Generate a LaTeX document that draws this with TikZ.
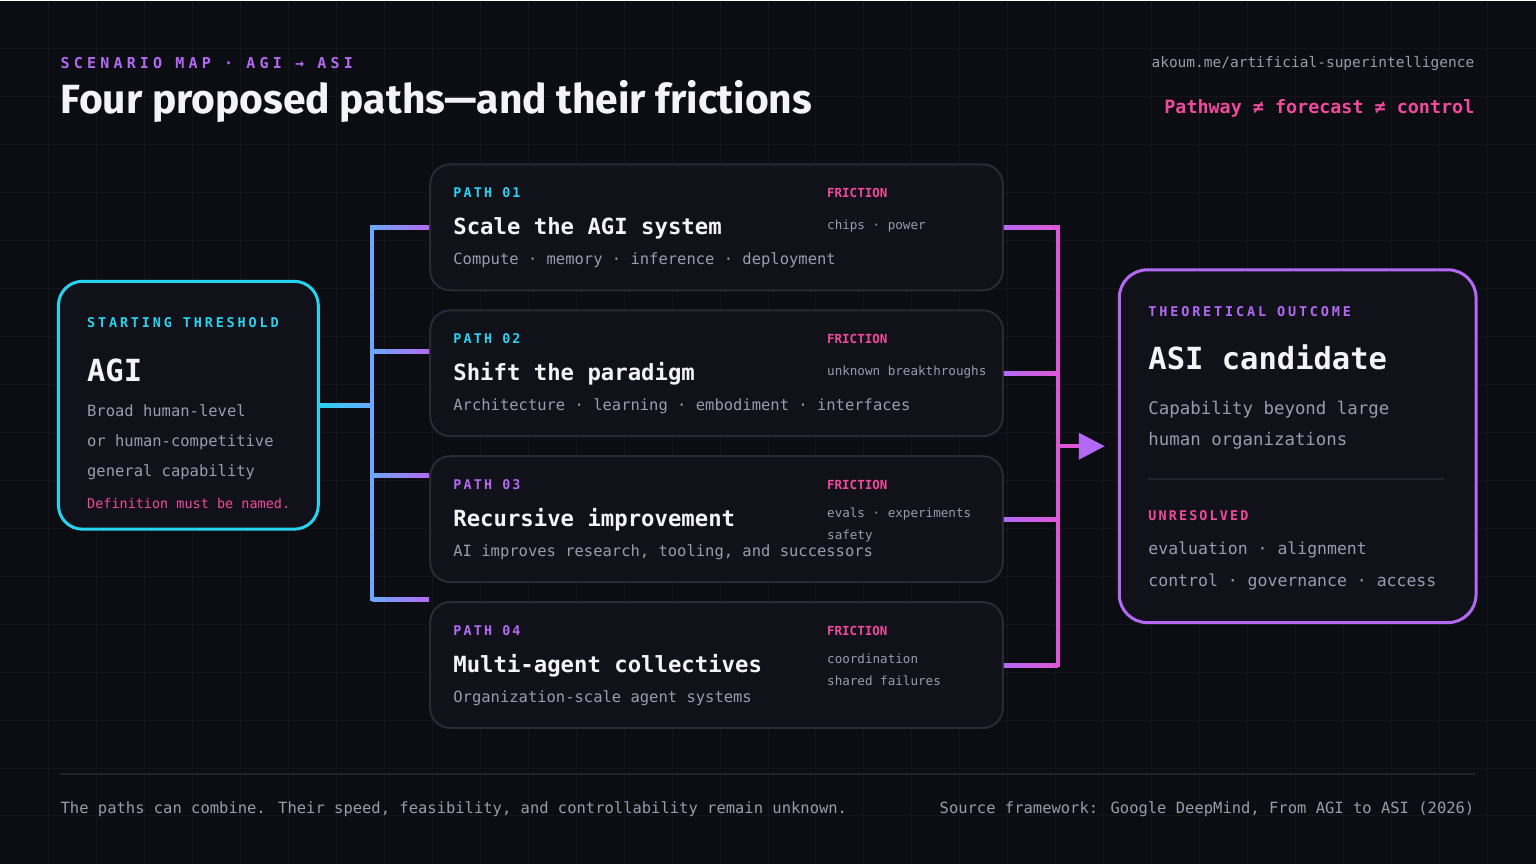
\documentclass[tikz,border=0pt]{standalone}
\usepackage{fontspec}
\setmainfont{DejaVu Sans Mono}
\newfontfamily\titlefont{Fira Sans}
\newfontfamily\kickfont[LetterSpace=28]{DejaVu Sans Mono}
\newfontfamily\widefont[LetterSpace=21]{DejaVu Sans Mono}
\newfontfamily\midfont[LetterSpace=16]{DejaVu Sans Mono}
\usetikzlibrary{positioning, arrows.meta}

\definecolor{bgcol}{HTML}{0C0D13}
\definecolor{gridcol}{HTML}{13141C}
\definecolor{boxfill}{HTML}{111219}
\definecolor{boxline}{HTML}{2A2939}
\definecolor{agicyan}{HTML}{27D3EE}
\definecolor{busblue}{HTML}{6CA8FF}
\definecolor{asipurple}{HTML}{B469F5}
\definecolor{frictionpink}{HTML}{F04A9C}
\definecolor{busmag}{HTML}{DE58D5}
\definecolor{softgray}{HTML}{9C99B0}
\definecolor{titlewhite}{HTML}{F4F4F8}
\definecolor{sepcol}{HTML}{22212D}

\tikzstyle{agibox} = [rectangle, rounded corners=24pt, minimum width=260pt, minimum height=248pt, draw=agicyan, line width=3pt, fill=boxfill]
\tikzstyle{pathbox} = [rectangle, rounded corners=20pt, minimum width=573pt, minimum height=126pt, draw=boxline, line width=2pt, fill=boxfill]
\tikzstyle{asibox} = [rectangle, rounded corners=28pt, minimum width=357pt, minimum height=353pt, draw=asipurple, line width=3pt, fill=boxfill]
\tikzstyle{txt} = [anchor=base west, inner sep=0pt]
\tikzstyle{kicker} = [txt, text=asipurple, font=\kickfont\bfseries\fontsize{15}{18}\selectfont]
\tikzstyle{tag} = [txt, font=\widefont\bfseries\fontsize{13.5}{16}\selectfont]
\tikzstyle{pathtag} = [txt, font=\midfont\bfseries\fontsize{13.4}{16}\selectfont]
\tikzstyle{frictag} = [txt, text=frictionpink, font=\bfseries\fontsize{12.5}{15}\selectfont]
\tikzstyle{heading} = [txt, text=titlewhite, font=\bfseries\fontsize{22.3}{26}\selectfont]
\tikzstyle{bigname} = [txt, text=titlewhite, font=\bfseries\fontsize{30.5}{34}\selectfont]
\tikzstyle{body} = [txt, text=softgray, font=\fontsize{15.5}{18}\selectfont]
\tikzstyle{fric} = [txt, text=softgray, font=\fontsize{12.6}{15}\selectfont]
\tikzstyle{asibody} = [txt, text=softgray, font=\fontsize{17.4}{20}\selectfont]
\tikzstyle{unres} = [txt, text=softgray, font=\fontsize{16.5}{19}\selectfont]
\tikzstyle{gridline} = [gridcol, line width=1pt]
\tikzstyle{bus} = [line width=4pt, line cap=rect]

\begin{document}
\begin{tikzpicture}[x=1pt, y=-1pt]
	% background and faint grid
	\fill[bgcol] (0,0) rectangle (1536,864);
	\foreach \gx in {48,96,...,1500} \draw[gridline] (\gx,0) -- (\gx,864);
	\foreach \gy in {48,96,...,850} \draw[gridline] (0,\gy) -- (1536,\gy);

	% header
	\node (kick) [kicker] at (60,68) {SCENARIO MAP · AGI → ASI};
	\node (title) [txt, text=titlewhite, font=\titlefont\bfseries\fontsize{40.8}{46}\selectfont] at (60,113) {Four proposed paths—and their frictions};
	\node (url) [txt, anchor=base east, text=softgray, font=\fontsize{14.5}{17}\selectfont] at (1475,67) {akoum.me/artificial-superintelligence};
	\node (motto) [txt, anchor=base east, text=frictionpink, font=\bfseries\fontsize{18.4}{22}\selectfont] at (1475,113) {Pathway ≠ forecast ≠ control};

	% starting threshold
	\node (agi) [agibox] at (188,405) {};
	\node (agitag) [tag, text=agicyan] at ([shift={(30,48)}]agi.north west) {STARTING THRESHOLD};
	\node (aginame) [bigname] at ([shift={(30,102)}]agi.north west) {AGI};
	\node (agib1) [body] at ([shift={(30,137)}]agi.north west) {Broad human-level};
	\node (agib2) [body] at ([shift={(30,167)}]agi.north west) {or human-competitive};
	\node (agib3) [body] at ([shift={(30,197)}]agi.north west) {general capability};
	\node (agidef) [txt, text=frictionpink, font=\fontsize{13.5}{16}\selectfont] at ([shift={(30,229)}]agi.north west) {Definition must be named.};

	% the four paths
	\node (p1) [pathbox] at (716.5,227) {};
	\node (p2) [pathbox, below=18pt of p1] {};
	\node (p3) [pathbox, below=18pt of p2] {};
	\node (p4) [pathbox, below=18pt of p3] {};

	\node (p1tag) [pathtag, text=agicyan] at ([shift={(24,34)}]p1.north west) {PATH 01};
	\node (p1head) [heading] at ([shift={(24,71)}]p1.north west) {Scale the AGI system};
	\node (p1sub) [body] at ([shift={(24,101)}]p1.north west) {Compute · memory · inference · deployment};
	\node (p1fr) [frictag] at ([shift={(398,34)}]p1.north west) {FRICTION};
	\node (p1fa) [fric] at ([shift={(398,66)}]p1.north west) {chips · power};

	\node (p2tag) [pathtag, text=agicyan] at ([shift={(24,34)}]p2.north west) {PATH 02};
	\node (p2head) [heading] at ([shift={(24,71)}]p2.north west) {Shift the paradigm};
	\node (p2sub) [body] at ([shift={(24,101)}]p2.north west) {Architecture · learning · embodiment · interfaces};
	\node (p2fr) [frictag] at ([shift={(398,34)}]p2.north west) {FRICTION};
	\node (p2fa) [fric] at ([shift={(398,66)}]p2.north west) {unknown breakthroughs};

	\node (p3tag) [pathtag, text=asipurple] at ([shift={(24,34)}]p3.north west) {PATH 03};
	\node (p3head) [heading] at ([shift={(24,71)}]p3.north west) {Recursive improvement};
	\node (p3sub) [body] at ([shift={(24,101)}]p3.north west) {AI improves research, tooling, and successors};
	\node (p3fr) [frictag] at ([shift={(398,34)}]p3.north west) {FRICTION};
	\node (p3fa) [fric] at ([shift={(398,62)}]p3.north west) {evals · experiments};
	\node (p3fb) [fric] at ([shift={(398,84)}]p3.north west) {safety};

	\node (p4tag) [pathtag, text=asipurple] at ([shift={(24,34)}]p4.north west) {PATH 04};
	\node (p4head) [heading] at ([shift={(24,71)}]p4.north west) {Multi-agent collectives};
	\node (p4sub) [body] at ([shift={(24,101)}]p4.north west) {Organization-scale agent systems};
	\node (p4fr) [frictag] at ([shift={(398,34)}]p4.north west) {FRICTION};
	\node (p4fa) [fric] at ([shift={(398,62)}]p4.north west) {coordination};
	\node (p4fb) [fric] at ([shift={(398,84)}]p4.north west) {shared failures};

	% theoretical outcome
	\node (asi) [asibox] at (1298,446) {};
	\node (asitag) [tag, text=asipurple] at ([shift={(30.5,48)}]asi.north west) {THEORETICAL OUTCOME};
	\node (asiname) [bigname] at ([shift={(30.5,101.5)}]asi.north west) {ASI candidate};
	\node (asib1) [asibody] at ([shift={(30.5,146.5)}]asi.north west) {Capability beyond large};
	\node (asib2) [asibody] at ([shift={(30.5,177)}]asi.north west) {human organizations};
	\coordinate (sepa) at ([shift={(30.5,210.5)}]asi.north west);
	\coordinate (sepb) at ([shift={(326.5,210.5)}]asi.north west);
	\draw[sepcol, line width=2pt] (sepa) -- (sepb);
	\node (unrtag) [pathtag, text=frictionpink] at ([shift={(30.5,252)}]asi.north west) {UNRESOLVED};
	\node (unr1) [unres] at ([shift={(30.5,286.5)}]asi.north west) {evaluation · alignment};
	\node (unr2) [unres] at ([shift={(30.5,318)}]asi.north west) {control · governance · access};

	% fan-out from AGI
	\coordinate (hubL) at (372,405);
	\coordinate (busA) at (372,227);
	\coordinate (busB) at (372,351);
	\coordinate (busC) at (372,475);
	\coordinate (busD) at (372,599);
	\shade[left color=agicyan, right color=busblue] ([yshift=2pt]agi.east) rectangle ([yshift=-2pt]hubL);
	\shade[left color=busblue, right color=asipurple] ([yshift=2pt]busA) rectangle ([yshift=-2pt]p1.west);
	\shade[left color=busblue, right color=asipurple] ([yshift=2pt]busB) rectangle ([yshift=20pt]p2.west);
	\shade[left color=busblue, right color=asipurple] ([yshift=2pt]busC) rectangle ([yshift=42pt]p3.west);
	\shade[left color=busblue, right color=asipurple] ([yshift=2pt]busD) rectangle ([yshift=64pt]p4.west);
	\draw[bus, busblue] (busA) -- (busD);

	% fan-in to ASI
	\coordinate (r1) at (1058,227);
	\coordinate (r2) at (1058,373);
	\coordinate (r3) at (1058,519);
	\coordinate (r4) at (1058,665);
	\coordinate (rmid) at (1058,446);
	\shade[left color=asipurple, right color=busmag] ([yshift=2pt]p1.east) rectangle ([yshift=-2pt]r1);
	\shade[left color=asipurple, right color=busmag] ([yshift=2pt]p2.east) rectangle ([yshift=-2pt]r2);
	\shade[left color=asipurple, right color=busmag] ([yshift=2pt]p3.east) rectangle ([yshift=-2pt]r3);
	\shade[left color=asipurple, right color=busmag] ([yshift=2pt]p4.east) rectangle ([yshift=-2pt]r4);
	\draw[bus, busmag] (r1) -- (r4);
	\draw[line width=4pt, busmag, -{Triangle[length=26pt, width=26pt, color=asipurple]}, shorten >=13pt] (rmid) -- (asi.west);

	% footer
	\coordinate (footA) at (60,774);
	\coordinate (footB) at (1475,774);
	\draw[sepcol, line width=2pt] (footA) -- (footB);
	\node (footl) [body] at (60,814) {The paths can combine. Their speed, feasibility, and controllability remain unknown.};
	\node (footr) [body, anchor=base east] at (1475,814) {Source framework: Google DeepMind, From AGI to ASI (2026)};
\end{tikzpicture}
\end{document}
